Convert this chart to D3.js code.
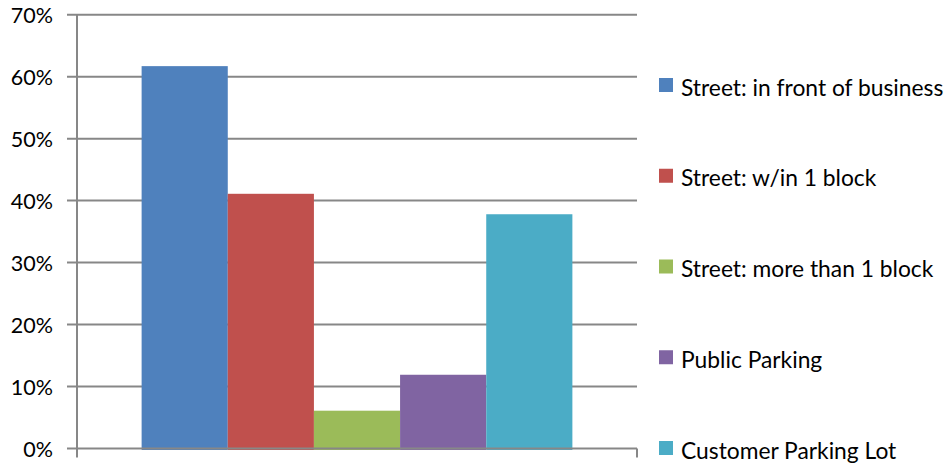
<!DOCTYPE html>
<html>
<head>
<meta charset="utf-8">
<script src="https://cdn.jsdelivr.net/npm/d3@7"></script>
<style>
  html, body { margin: 0; padding: 0; background: #fff; }
  svg { display: block; }
  text { font-family: Lato, "Open Sans", sans-serif; fill: #000; }
</style>
</head>
<body>
<svg id="chart" width="948" height="466"></svg>
<script>
// Where customers park
const series = [
  "Street: in front of business",
  "Street: w/in 1 block",
  "Street: more than 1 block",
  "Public Parking",
  "Customer Parking Lot"
];
const values = [0.617, 0.411, 0.061, 0.119, 0.378];
const colors = ["#4f81bd", "#c0504d", "#9bbb59", "#8064a2", "#4bacc6"];
const yTicks = [0, 0.1, 0.2, 0.3, 0.4, 0.5, 0.6, 0.7];

const svg = d3.select("#chart");
const plot = { left: 77, right: 637, top: 14.7, bottom: 448.5 };

const y = d3.scaleLinear().domain([0, 0.7]).range([plot.bottom, plot.top]);
const x = d3.scaleBand().domain(series).range([plot.left, plot.right])
  .paddingInner(0).paddingOuter(0.75);

const gridColor = "#878787";

// horizontal gridlines with short ticks left of the axis
svg.append("g").selectAll("line").data(yTicks.filter(d => d > 0)).join("line")
  .attr("x1", plot.left - 10).attr("x2", plot.right)
  .attr("y1", d => y(d)).attr("y2", d => y(d))
  .attr("stroke", gridColor).attr("stroke-width", 2);

// bars
svg.append("g").selectAll("rect").data(values).join("rect")
  .attr("x", (d, i) => x(series[i]))
  .attr("width", x.bandwidth())
  .attr("y", d => y(d))
  .attr("height", d => y(0) - y(d) + 1.5)
  .attr("fill", (d, i) => colors[i]);

// value axis line
svg.append("line")
  .attr("x1", plot.left).attr("x2", plot.left)
  .attr("y1", plot.top).attr("y2", plot.bottom + 9)
  .attr("stroke", gridColor).attr("stroke-width", 2);

// category axis with end ticks
svg.append("line")
  .attr("x1", plot.left - 10).attr("x2", plot.right)
  .attr("y1", y(0)).attr("y2", y(0))
  .attr("stroke", gridColor).attr("stroke-width", 2);
svg.append("line")
  .attr("x1", plot.right).attr("x2", plot.right)
  .attr("y1", y(0)).attr("y2", y(0) + 9)
  .attr("stroke", gridColor).attr("stroke-width", 2);

// tick labels
svg.append("g").selectAll("text").data(yTicks).join("text")
  .attr("x", 53).attr("y", d => y(d))
  .attr("text-anchor", "end").attr("dominant-baseline", "central")
  .style("font-size", "21.5px")
  .text(d => d3.format(".0%")(d));

// legend
const legendY = d3.scalePoint().domain(series).range([85, 448]);
const lg = svg.append("g").selectAll("g").data(series).join("g")
  .attr("transform", d => `translate(659,${legendY(d)})`);
lg.append("rect").attr("x", 0).attr("y", -7).attr("width", 14).attr("height", 14)
  .attr("fill", (d, i) => colors[i]);
lg.append("text").attr("x", 22).attr("y", 1.5)
  .attr("dominant-baseline", "central")
  .style("font-size", "22.8px")
  .text(d => d);
</script>
</body>
</html>
